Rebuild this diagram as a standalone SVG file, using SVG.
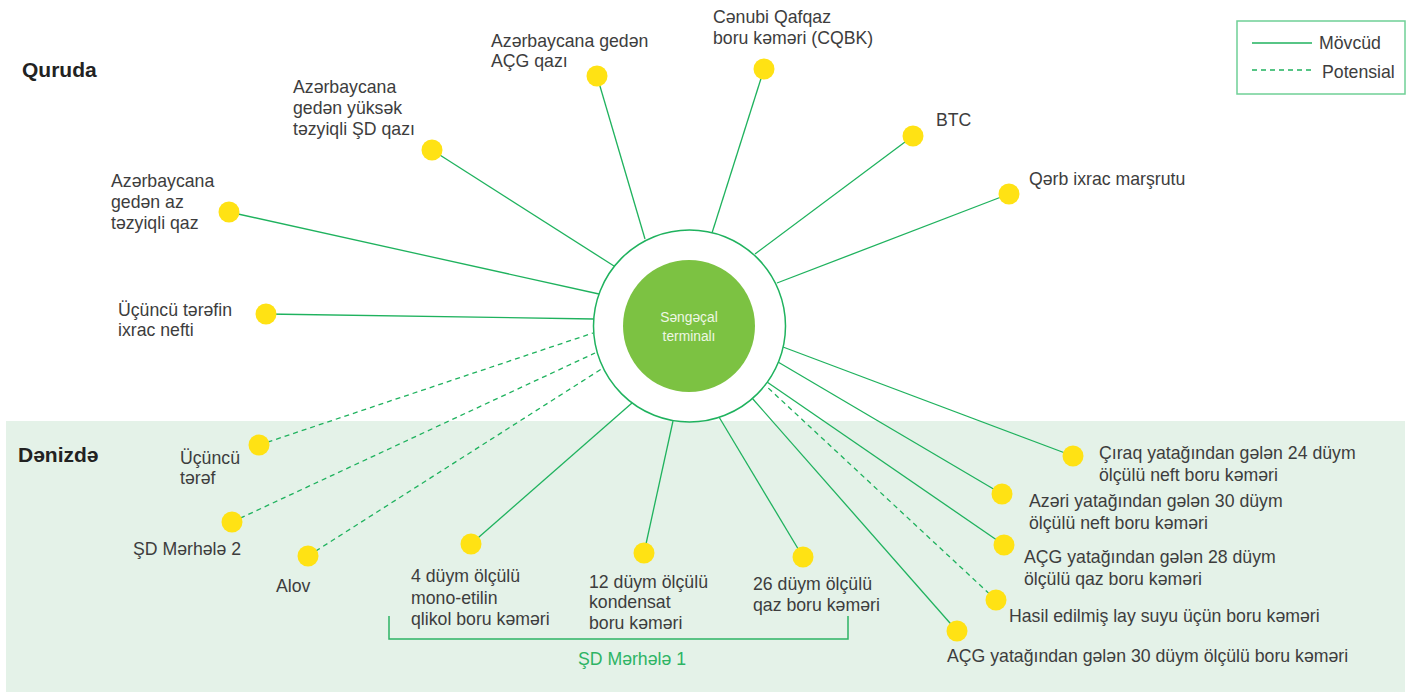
<svg xmlns="http://www.w3.org/2000/svg" width="1411" height="693" viewBox="0 0 1411 693">
<style>
.lbl{font-family:"Liberation Sans",Arial,sans-serif;font-size:17.7px;fill:#3d3d3d}
.hdr{font-family:"Liberation Sans",Arial,sans-serif;font-size:21px;font-weight:bold;fill:#222}
.c{stroke:#1fb25e;stroke-width:1.3;fill:none}
.d{stroke:#1fb25e;stroke-width:1.3;fill:none;stroke-dasharray:5 4}
.dot{fill:#ffe214}
</style>
<rect x="0" y="0" width="1411" height="693" fill="#ffffff"/>
<rect x="6" y="421" width="1399" height="271" fill="#e4f2e8"/>
<text class="hdr" x="22" y="77">Quruda</text>
<text class="hdr" x="18" y="462">Dənizdə</text>
<g id="legend">
<rect x="1237" y="21" width="168" height="73" fill="#ffffff" stroke="#6fd096" stroke-width="1.5"/>
<line x1="1252" y1="43" x2="1312" y2="43" class="c"/>
<line x1="1252" y1="70" x2="1312" y2="70" class="d"/>
<text class="lbl" x="1319" y="49">Mövcüd</text>
<text class="lbl" x="1322" y="78">Potensial</text>
</g>
<g id="connectors">
<line class="c" x1="597" y1="76" x2="645" y2="239"/>
<line class="c" x1="764" y1="69" x2="712" y2="233"/>
<line class="c" x1="913" y1="136" x2="755" y2="254"/>
<line class="c" x1="1009" y1="194" x2="777" y2="283"/>
<line class="c" x1="432" y1="150" x2="614" y2="266"/>
<line class="c" x1="229" y1="212" x2="599" y2="294"/>
<line class="c" x1="266" y1="314" x2="594" y2="319"/>
<line class="d" x1="259" y1="445" x2="593" y2="333"/>
<line class="d" x1="232" y1="522" x2="595" y2="353"/>
<line class="d" x1="308" y1="556" x2="603" y2="368"/>
<line class="c" x1="471" y1="544" x2="632" y2="403"/>
<line class="c" x1="644" y1="553" x2="673" y2="421"/>
<line class="c" x1="803" y1="557" x2="719" y2="417"/>
<line class="c" x1="1073" y1="456" x2="783" y2="347"/>
<line class="c" x1="1002" y1="494" x2="778" y2="362"/>
<line class="c" x1="1004" y1="545" x2="767" y2="382"/>
<line class="d" x1="996" y1="600" x2="765" y2="385"/>
<line class="c" x1="957" y1="631" x2="752" y2="398"/>
<polyline points="389,616 389,639 848,639 848,616" fill="none" stroke="#2db464" stroke-width="1.5"/>
</g>
<g id="terminal">
<circle cx="689.5" cy="326" r="96" fill="#ffffff" stroke="#1fb25e" stroke-width="1.5"/>
<circle cx="689" cy="326" r="66" fill="#7cc242"/>
<text x="689" y="322" text-anchor="middle" font-family="Liberation Sans, Arial, sans-serif" font-size="13.8" fill="#eef7e4">Səngəçal</text>
<text x="689" y="341" text-anchor="middle" font-family="Liberation Sans, Arial, sans-serif" font-size="13.8" fill="#eef7e4">terminalı</text>
</g>
<g id="n-acg-qazi"><circle class="dot" cx="597" cy="76" r="10.5"/><text class="lbl" x="491" y="47">Azərbaycana gedən</text><text class="lbl" x="491" y="67">AÇG qazı</text></g>
<g id="n-cqbk"><circle class="dot" cx="764" cy="69" r="10.5"/><text class="lbl" x="713" y="23">Cənubi Qafqaz</text><text class="lbl" x="713" y="44">boru kəməri (CQBK)</text></g>
<g id="n-btc"><circle class="dot" cx="913" cy="136" r="10.5"/><text class="lbl" x="936" y="126">BTC</text></g>
<g id="n-qerb"><circle class="dot" cx="1009" cy="194" r="10.5"/><text class="lbl" x="1029" y="185">Qərb ixrac marşrutu</text></g>
<g id="n-yuksek"><circle class="dot" cx="432" cy="150" r="10.5"/><text class="lbl" x="293" y="93">Azərbaycana</text><text class="lbl" x="293" y="114">gedən yüksək</text><text class="lbl" x="293" y="135">təzyiqli ŞD qazı</text></g>
<g id="n-az"><circle class="dot" cx="229" cy="212" r="10.5"/><text class="lbl" x="111" y="187">Azərbaycana</text><text class="lbl" x="111" y="208">gedən az</text><text class="lbl" x="111" y="229">təzyiqli qaz</text></g>
<g id="n-ucuncu-neft"><circle class="dot" cx="266" cy="314" r="10.5"/><text class="lbl" x="118" y="316">Üçüncü tərəfin</text><text class="lbl" x="118" y="336">ixrac nefti</text></g>
<g id="n-ucuncu"><circle class="dot" cx="259" cy="445" r="10.5"/><text class="lbl" x="180" y="464">Üçüncü</text><text class="lbl" x="180" y="484">tərəf</text></g>
<g id="n-sd2"><circle class="dot" cx="232" cy="522" r="10.5"/><text class="lbl" x="133" y="555">ŞD Mərhələ 2</text></g>
<g id="n-alov"><circle class="dot" cx="308" cy="556" r="10.5"/><text class="lbl" x="276" y="592">Alov</text></g>
<g id="n-4"><circle class="dot" cx="471" cy="544" r="10.5"/><text class="lbl" x="411" y="582">4 düym ölçülü</text><text class="lbl" x="411" y="604">mono-etilin</text><text class="lbl" x="411" y="625">qlikol boru kəməri</text></g>
<g id="n-12"><circle class="dot" cx="644" cy="553" r="10.5"/><text class="lbl" x="589" y="588">12 düym ölçülü</text><text class="lbl" x="589" y="608">kondensat</text><text class="lbl" x="589" y="629">boru kəməri</text></g>
<g id="n-26"><circle class="dot" cx="803" cy="557" r="10.5"/><text class="lbl" x="753" y="590">26 düym ölçülü</text><text class="lbl" x="753" y="611">qaz boru kəməri</text></g>
<text x="632" y="665" text-anchor="middle" font-family="Liberation Sans, Arial, sans-serif" font-size="17.7" fill="#2db464">ŞD Mərhələ 1</text>
<g id="n-ciraq"><circle class="dot" cx="1073" cy="456" r="10.5"/><text class="lbl" x="1099" y="459">Çıraq yatağından gələn 24 düym</text><text class="lbl" x="1099" y="481">ölçülü neft boru kəməri</text></g>
<g id="n-azeri"><circle class="dot" cx="1002" cy="494" r="10.5"/><text class="lbl" x="1029" y="507">Azəri yatağından gələn 30 düym</text><text class="lbl" x="1029" y="529">ölçülü neft boru kəməri</text></g>
<g id="n-acg28"><circle class="dot" cx="1004" cy="545" r="10.5"/><text class="lbl" x="1024" y="563">AÇG yatağından gələn 28 düym</text><text class="lbl" x="1024" y="585">ölçülü qaz boru kəməri</text></g>
<g id="n-hasil"><circle class="dot" cx="996" cy="600" r="10.5"/><text class="lbl" x="1009" y="622">Hasil edilmiş lay suyu üçün boru kəməri</text></g>
<g id="n-acg30"><circle class="dot" cx="957" cy="631" r="10.5"/><text class="lbl" x="947" y="662">AÇG yatağından gələn 30 düym ölçülü boru kəməri</text></g>
</svg>
